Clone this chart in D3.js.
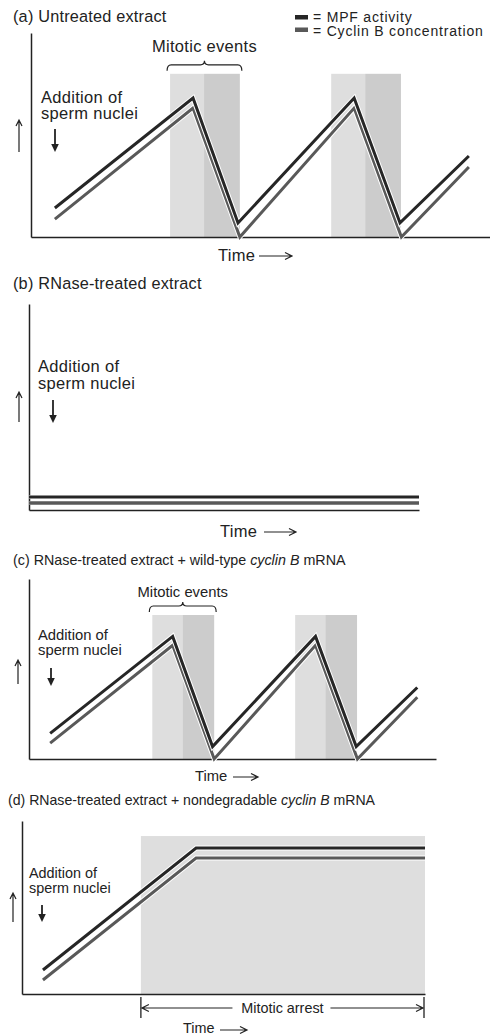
<!DOCTYPE html>
<html><head><meta charset="utf-8">
<script src="https://cdn.jsdelivr.net/npm/d3@7"></script>
<style>
body{margin:0;background:#fff}
svg{display:block}
text{font-family:"Liberation Sans",Arial,Helvetica,sans-serif;fill:#222}
</style>
</head><body>
<svg id="chart" width="490" height="1036"></svg>
<script>
// ---------- DATA ----------
const legendLabels = ["= MPF activity", "= Cyclin B concentration"];
const seriesNames = ["MPF activity", "Cyclin B concentration"];
const panelLetters = ["(a)", "(b)", "(c)", "(d)"];
const timeLabel = "Time";
const additionLabel = ["Addition of", "sperm nuclei"];
const mitoticEventsLabel = "Mitotic events";
const mitoticArrestLabel = "Mitotic arrest";

// (a) and (c): oscillating extract (time 0-100, level 0-100)
const cycleTimesMPF    = [5.2, 35.3, 45.1, 70.4, 80.4, 95.4];
const mpfCycle         = [14.2, 68.1, 6.9, 68.1, 6.9, 39.7];
const cycleTimesCyclin = [5.2, 35.3, 45.5, 70.4, 80.7, 95.4];
const cyclinCycle      = [8.8, 63.2, 0, 63.2, 0, 34.3];
// mitotic windows (light = early, dark = late)
const mitosisStart = [30.3, 65.4];
const mitosisMid   = [37.7, 72.8];
const mitosisEnd   = [45.5, 80.6];
const mitosisTop   = 80;

// (b): RNase-treated, flat
const flatTimes  = [0, 100];
const mpfFlat    = [6.3, 6.3];
const cyclinFlat = [3.4, 3.4];

// (d): nondegradable cyclin B
const arrestTimes  = [5.2, 43.2, 100];
const mpfArrest    = [13.9, 84.4, 84.4];
const cyclinArrest = [8.1, 78.6, 78.6];
const arrestStart = 29.5, arrestEnd = 100, arrestTop = 91.3;

// ---------- STYLE / LAYOUT ----------
const colMPF = "#262626", colCyclin = "#595959";
const shadeLight = "#dedede", shadeDark = "#cccccc";
const svg = d3.select("#chart");

function txt(g, x, y, s, size, anchor, ls) {
  return g.append("text").attr("x", x).attr("y", y)
    .attr("font-size", size).attr("letter-spacing", ls || 0)
    .attr("text-anchor", anchor || "start").text(s);
}
function upArrow(g, x, yTop, yBot) {
  g.append("path").attr("d", `M${x},${yBot}V${yTop}M${x-3},${yTop+6}L${x},${yTop}L${x+3},${yTop+6}`)
    .attr("fill", "none").attr("stroke", "#222").attr("stroke-width", 1.2);
}
function downArrow(g, x, yTop, yBot) {
  g.append("path").attr("d", `M${x},${yTop}V${yBot-6}`)
    .attr("stroke", "#222").attr("stroke-width", 1.8);
  g.append("path").attr("d", `M${x-3.8},${yBot-8}L${x+3.8},${yBot-8}L${x},${yBot}Z`).attr("fill", "#222");
}
function rightArrow(g, x0, x1, y) {
  g.append("path").attr("d", `M${x0},${y}H${x1}M${x1-7},${y-3.5}L${x1},${y}L${x1-7},${y+3.5}`)
    .attr("fill", "none").attr("stroke", "#222").attr("stroke-width", 1.2);
}
function leftArrow(g, x0, x1, y) {
  g.append("path").attr("d", `M${x1},${y}H${x0}M${x0+7},${y-3.5}L${x0},${y}L${x0+7},${y+3.5}`)
    .attr("fill", "none").attr("stroke", "#222").attr("stroke-width", 1.2);
}

const panels = [
  { id: "a", title: [{t: panelLetters[0] + "  Untreated extract"}], titleX: 13, titleY: 22, titleSize: 16.3, titleLs: 0.2,
    x0: 31, x1: 490, yb: 237, yt: 33, font: 16.5, ls: 0.3,
    times: [cycleTimesMPF, cycleTimesCyclin], mpf: mpfCycle, cyc: cyclinCycle, mitosis: true,
    upArrow: [19, 120, 152], addX: 41, addY: [103, 119], downArrow: [55, 129, 152],
    eventsY: 52, timeX: 218, timeY: 261, timeArrow: [259, 292, 256] },
  { id: "b", title: [{t: panelLetters[1] + "  RNase-treated extract"}], titleX: 13, titleY: 289, titleSize: 16.3, titleLs: 0.2,
    x0: 29, x1: 419, yb: 510, yt: 304, font: 16.5, ls: 0.3,
    times: [flatTimes, flatTimes], mpf: mpfFlat, cyc: cyclinFlat,
    upArrow: [19, 392, 422], addX: 38, addY: [372, 389], downArrow: [53, 400, 423],
    timeX: 220, timeY: 537, timeArrow: [264, 296, 532] },
  { id: "c", title: [{t: panelLetters[2] + "  RNase-treated extract + wild-type "}, {t: "cyclin B", i: true}, {t: " mRNA"}],
    titleX: 13, titleY: 565, titleSize: 14.3, titleLs: 0,
    x0: 29, x1: 436, yb: 759, yt: 579, font: 14.8, ls: 0,
    times: [cycleTimesMPF, cycleTimesCyclin], mpf: mpfCycle, cyc: cyclinCycle, mitosis: true,
    upArrow: [18, 660, 684], addX: 38, addY: [640, 655], downArrow: [51, 668, 686],
    eventsY: 597, timeX: 195, timeY: 781, timeArrow: [233, 258, 777] },
  { id: "d", title: [{t: panelLetters[3] + "  RNase-treated extract + nondegradable "}, {t: "cyclin B", i: true}, {t: " mRNA"}],
    titleX: 8, titleY: 805, titleSize: 14.1, titleLs: 0,
    x0: 22, x1: 425, yb: 994, yt: 821, font: 14.4, ls: 0,
    times: [arrestTimes, arrestTimes], mpf: mpfArrest, cyc: cyclinArrest, arrest: true,
    upArrow: [13, 893, 922], addX: 29, addY: [878, 893], downArrow: [42, 905, 922],
    timeX: 183, timeY: 1033, timeArrow: [220, 247, 1030] }
];

panels.forEach(p => {
  const g = svg.append("g").attr("class", "panel-" + p.id);
  const x = d3.scaleLinear().domain([0, 100]).range([p.x0, p.x1]);
  const y = d3.scaleLinear().domain([0, 100]).range([p.yb, p.yt]);

  // title
  const tt = g.append("text").attr("x", p.titleX).attr("y", p.titleY)
    .attr("font-size", p.titleSize).attr("letter-spacing", p.titleLs);
  p.title.forEach(s => tt.append("tspan").attr("font-style", s.i ? "italic" : null).text(s.t));

  // shading
  if (p.mitosis) {
    mitosisStart.forEach((s, i) => {
      g.append("rect").attr("x", x(s)).attr("y", y(mitosisTop))
        .attr("width", x(mitosisMid[i]) - x(s)).attr("height", y(0) - y(mitosisTop)).attr("fill", shadeLight);
      g.append("rect").attr("x", x(mitosisMid[i])).attr("y", y(mitosisTop))
        .attr("width", x(mitosisEnd[i]) - x(mitosisMid[i])).attr("height", y(0) - y(mitosisTop)).attr("fill", shadeDark);
    });
    // brace over first mitotic window
    const bx0 = x(mitosisStart[0]) - 3, bx1 = x(mitosisEnd[0]) + 2, bm = (bx0 + bx1) / 2;
    const yb = y(mitosisTop) - 3, yh = yb - 6, yp = yh - 4;
    g.append("path").attr("d",
      `M${bx0},${yb}Q${bx0},${yh} ${bx0+4},${yh}L${bm-4},${yh}Q${bm},${yh} ${bm},${yp}Q${bm},${yh} ${bm+4},${yh}L${bx1-4},${yh}Q${bx1},${yh} ${bx1},${yb}`)
      .attr("fill", "none").attr("stroke", "#222").attr("stroke-width", 1.2);
    txt(g, bm, p.eventsY, mitoticEventsLabel, p.font, "middle", p.ls);
  }
  if (p.arrest) {
    g.append("rect").attr("x", x(arrestStart)).attr("y", y(arrestTop))
      .attr("width", x(arrestEnd) - x(arrestStart)).attr("height", y(0) - y(arrestTop)).attr("fill", shadeLight);
    const ay = 1008, xa = x(arrestStart), xb = x(arrestEnd) - 1;
    g.append("path").attr("d", `M${xa},997V1018M${xb},997V1018`).attr("stroke", "#222").attr("stroke-width", 1.3);
    const mid = (xa + xb) / 2;
    txt(g, mid, 1013, mitoticArrestLabel, p.font, "middle", p.ls);
    leftArrow(g, xa + 1, mid - 50, ay);
    rightArrow(g, mid + 48, xb - 1, ay);
  }

  // axes (no ticks)
  g.append("g").attr("transform", `translate(0,${p.yb})`)
    .call(d3.axisBottom(x).tickValues([]).tickSizeOuter(0))
    .call(a => a.select(".domain").attr("stroke", "#222").attr("stroke-width", 1.5));
  g.append("g").attr("transform", `translate(${p.x0},0)`)
    .call(d3.axisLeft(y).tickValues([]).tickSizeOuter(0))
    .call(a => a.select(".domain").attr("stroke", "#222").attr("stroke-width", 1.5));

  // series lines
  const series = [
    { name: seriesNames[1], t: p.times[1], v: p.cyc, c: colCyclin, w: p.id === "b" ? 3.6 : 3 },
    { name: seriesNames[0], t: p.times[0], v: p.mpf, c: colMPF, w: 3 }
  ];
  const line = d3.line().x(d => x(d[0])).y(d => y(d[1]));
  series.forEach(s => {
    const pts = s.t.map((t, i) => [t, s.v[i]]);
    g.append("path").attr("d", line(pts)).attr("fill", "none")
      .attr("stroke", "#fff").attr("stroke-width", p.id === "b" ? 3.6 : 5).attr("stroke-linejoin", "miter");
    g.append("path").attr("d", line(pts)).attr("fill", "none").attr("class", "series")
      .attr("stroke", s.c).attr("stroke-width", s.w).attr("stroke-linejoin", "miter");
  });

  // annotations
  upArrow(g, p.upArrow[0], p.upArrow[1], p.upArrow[2]);
  txt(g, p.addX, p.addY[0], additionLabel[0], p.font, "start", p.ls);
  txt(g, p.addX, p.addY[1], additionLabel[1], p.font, "start", p.ls);
  downArrow(g, p.downArrow[0], p.downArrow[1], p.downArrow[2]);
  txt(g, p.timeX, p.timeY, timeLabel, p.font, "start", p.ls);
  rightArrow(g, p.timeArrow[0], p.timeArrow[1], p.timeArrow[2]);
});

// legend
const lg = svg.append("g").attr("class", "legend");
[colMPF, colCyclin].forEach((c, i) => {
  const yy = 17 + i * 12.5;
  lg.append("rect").attr("x", 295).attr("y", yy - 2).attr("width", 13).attr("height", 4.5).attr("fill", c);
  txt(lg, 313, 21.5 + i * 14, legendLabels[i], 14, "start", 0.8);
});
</script>
</body></html>
